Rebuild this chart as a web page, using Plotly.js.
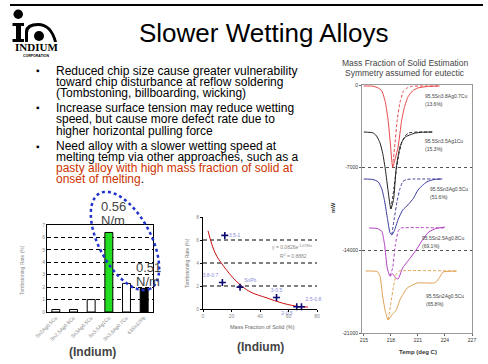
<!DOCTYPE html>
<html><head><meta charset="utf-8">
<script src="https://cdn.plot.ly/plotly-3.0.1.min.js"></script>
<style>html,body{margin:0;padding:0;background:#fff}#g{width:488px;height:364px}</style>
</head><body><div id="g"></div>
<script>
// ---------- data ----------
const barCats = ["Sn2Ag0.5Cu","Sn2.5Ag0.8Cu","Sn3Ag0.5Cu","Sn3.5Ag1Cu","Sn3.8Ag0.7Cu","63Sn37Pb"];
const barVals = [0.2, 0.2, 1.0, 6.4, 2.3, 1.9];
const barColors = ["#ffffff","#ffffff","#ffffff","#22dd22","#ffffff","#000000"];
const barTicks = [0,1,2,3,4,5,6,7];

const ptLabels = ["3.8-0.7","3.5-1","SnPb","3-0.5","2-0.5","2.5-0.8"];
const ptX = [13.6, 15.3, 26, 51.6, 65.8, 69.1];
const ptY = [2.3, 6.4, 1.9, 1.0, 0.2, 0.2];
const ptPos = ["top left","middle right","top right","top center","bottom left","top right"];
const fitX = [3.5, 8.4, 14, 23.9, 33, 44.9, 56, 68, 73.7];
const fitY = [6.8, 4.9, 3.8, 2.35, 1.5, 0.96, 0.5, 0.2, 0.17];
const scX = [0,20,40,60,80];
const scY = [0,2,4,6,8];
const scGrid = [2,4,6];

const dscXTicks = [215,218,221,224,227];
const dscYTicks = [0,-7000,-14000,-21000];
const dscYText = ["0","-7000","-14000","-21000"];

const redT  = [215.0,216.0,216.6,217.0,217.4,217.7,217.95,218.2,218.5,218.8,219.2,219.5,219.9,220.4,221.0,222.0,223.4];
const redV  = [-85,-100,-250,-500,-1500,-3000,-5000,-6950,-6200,-5250,-3000,-1900,-1000,-500,-250,-130,-85];
const redDT = [218.2,218.45,218.7,219.0,219.4,219.8,220.4,222.0,223.4];
const redDV = [-6950,-5000,-3000,-1500,-500,-250,-100,-85,-85];

const blkT  = [215.0,216.0,216.4,216.8,217.1,217.4,217.7,218.0,218.3,218.6,219.0,219.3,219.6,220.2,220.7,221.5,222.6];
const blkV  = [-3980,-4050,-4300,-4900,-5800,-7200,-9000,-10500,-9700,-7000,-5250,-4700,-4400,-4200,-4070,-4000,-3980];
const blkDT = [218.0,218.3,218.6,218.9,219.2,219.6,220.0,221.0,222.6];
const blkDV = [-10500,-9000,-7200,-5800,-4900,-4300,-4050,-3980,-3980];

const bluT  = [215.0,216.0,216.6,217.0,217.3,217.6,217.9,218.1,218.4,218.8,219.3,219.9,220.5,221.0,221.5,222.0,222.8,223.7];
const bluV  = [-7960,-8000,-8200,-8800,-9800,-11200,-12500,-12700,-12300,-11400,-10600,-10150,-9600,-8900,-8500,-8200,-8000,-7960];
const bluDT = [218.1,218.4,218.7,219.0,219.3,219.7,220.5,223.7];
const bluDV = [-12700,-11200,-9800,-8800,-8200,-8000,-7960,-7960];

const purT  = [215.6,216.5,217.0,217.3,217.6,217.9,218.2,218.5,218.8,219.3,220.0,220.8,221.5,222.2,223.0,224.0];
const purV  = [-12110,-12150,-12400,-13500,-15500,-16180,-16000,-16300,-16430,-15500,-14800,-13980,-13130,-12450,-12150,-12030];
const purDT = [217.9,218.2,218.5,218.8,219.1,224.0];
const purDV = [-16180,-15500,-13500,-12400,-12110,-12110];

const orgT  = [215.2,216.5,216.8,217.1,217.4,217.7,218.1,218.6,219.0,219.8,220.9,222.7,223.0,223.4,223.8,224.5,225.3];
const orgV  = [-15750,-15800,-16200,-17950,-19200,-19900,-19480,-19060,-18200,-17200,-16770,-16770,-16700,-16300,-15830,-15780,-15750];
const orgDT = [217.7,218.0,218.3,218.6,218.9,225.3];
const orgDV = [-19900,-18500,-17000,-16000,-15750,-15750];

const dscNames = ["95.5Sn3.8Ag0.7Cu","95.5Sn3.5Ag1Cu","95.5Sn3Ag0.5Cu","95.5Sn2.5Ag0.8Cu","95.5Sn2Ag0.5Cu"];
const dscPct = ["(13.6%)","(15.3%)","(51.6%)","(69.1%)","(65.8%)"];

const bulletLines = [
 ["Reduced chip size cause greater vulnerability","k"],
 ["toward chip disturbance at reflow soldering","k"],
 ["(Tombstoning, billboarding, wicking)","k"],
 ["Increase surface tension may reduce wetting","k"],
 ["speed, but cause more defect rate due to","k"],
 ["higher horizontal pulling force","k"],
 ["Need alloy with a slower wetting speed at","k"],
 ["melting temp via other approaches, such as a","k"],
 ["pasty alloy with high mass fraction of solid at","r"],
 ["onset of melting<span style='color:#000'>.</span>","r"]
];

// ---------- helpers ----------
const W=488,H=364;
const px=x=>x/W, py=y=>1-y/H;
const FF="Liberation Sans, Arial, sans-serif";
const ann=[];
function T(x,y,text,opt){ann.push(Object.assign({xref:'paper',yref:'paper',x:px(x),y:py(y),text:text,showarrow:false,
  font:{family:FF,size:12,color:'#000'},xanchor:'center',yanchor:'middle'},opt||{}));}

T(264,33,"Slower Wetting Alloys",{font:{family:FF,size:26,color:'#000'}});
const lineY=[71,82.3,93.3,107.7,119.3,130.7,146,157,168.3,179.3];
bulletLines.forEach((l,i)=>T(54,lineY[i],l[0],{xanchor:'left',font:{family:FF,size:12,color:l[1]==='r'?'#cc3300':'#000'}}));
[71,107.7,146].forEach(y=>T(38,y,"▪",{font:{family:FF,size:10,color:'#000'}}));
T(113,206,"0.56",{font:{family:FF,size:13}});
T(113,220,"N/m",{font:{family:FF,size:13}});
T(148,267,"0.51",{font:{family:FF,size:13}});
T(148,281,"N/m",{font:{family:FF,size:13}});
T(92,352,"<b>(Indium)</b>",{font:{family:FF,size:12}});
T(260,347,"<b>(Indium)</b>",{font:{family:FF,size:12}});
T(405,63,"Mass Fraction of Solid Estimation",{font:{family:FF,size:8.5}});
T(405,73,"Symmetry assumed for eutectic",{font:{family:FF,size:8.5}});
const lblPos=[[423,96],[423,141],[428,189],[420,238],[424,296]];
dscNames.forEach((n,i)=>{T(lblPos[i][0],lblPos[i][1],n,{xanchor:'left',font:{family:FF,size:5,color:'#444'}});
  T(lblPos[i][0],lblPos[i][1]+8,dscPct[i],{xanchor:'left',font:{family:FF,size:5,color:'#444'}});});
T(22,270,"Tombstoning Rate (%)",{textangle:-90,font:{family:FF,size:5,color:'#888'}});
T(187,263,"Tombstoning Rate (%)",{textangle:-90,font:{family:FF,size:5,color:'#777'}});
T(262,327,"Mass Fraction of Solid (%)",{font:{family:FF,size:5.5,color:'#666'}});
T(333,208,"<b>mW</b>",{textangle:-90,font:{family:FF,size:5.5,color:'#333'}});
T(418,352,"<b>Temp (deg C)</b>",{font:{family:FF,size:6,color:'#333'}});
T(292,247,"y = 0.0826e<sup>-5.0786x</sup>",{font:{family:FF,size:5,color:'#888'}});
T(293,256,"R<sup>2</sup> = 0.8882",{font:{family:FF,size:5,color:'#888'}});
T(36,47,"<b>INDIUM</b>",{font:{family:"Liberation Serif, serif",size:11,color:'#000'}});
T(36,55.5,"<b>CORPORATION</b>",{font:{family:FF,size:3.5,color:'#000'}});

const shapes=[];
shapes.push({type:'line',xref:'paper',yref:'paper',x0:px(10),x1:px(483),y0:py(5),y1:py(5),line:{color:'#000',width:2}});
shapes.push({type:'circle',xref:'paper',yref:'paper',x0:px(13.5),x1:px(23),y0:py(9.5),y1:py(19),fillcolor:'#000',line:{width:0}});
shapes.push({type:'rect',xref:'paper',yref:'paper',x0:px(16),x1:px(21),y0:py(24),y1:py(41),fillcolor:'#000',line:{width:0}});
shapes.push({type:'rect',xref:'paper',yref:'paper',x0:px(12.5),x1:px(24),y0:py(23),y1:py(26),fillcolor:'#000',line:{width:0}});
shapes.push({type:'rect',xref:'paper',yref:'paper',x0:px(12.5),x1:px(24),y0:py(39),y1:py(42),fillcolor:'#000',line:{width:0}});
const arch=`M ${px(25)} ${py(42)} L ${px(25)} ${py(31)} Q ${px(26)} ${py(23)} ${px(38)} ${py(23)} Q ${px(52)} ${py(23)} ${px(57)} ${py(42)} L ${px(54)} ${py(42)} Q ${px(50)} ${py(26)} ${px(38)} ${py(26)} Q ${px(28)} ${py(26)} ${px(28)} ${py(33)} L ${px(28)} ${py(42)} Z`;
shapes.push({type:'path',xref:'paper',yref:'paper',path:arch,fillcolor:'#000',line:{width:0}});
shapes.push({type:'circle',xref:'paper',yref:'paper',x0:px(34),x1:px(44),y0:py(31),y1:py(41),fillcolor:'#000',line:{width:0}});
(function(){const cx=125,cy=241,a=54,b=26,ang=62*Math.PI/180;let d='';
 for(let i=0;i<=72;i++){const t=i/72*2*Math.PI;const ex=a*Math.cos(t),ey=b*Math.sin(t);
  const x=cx+ex*Math.cos(ang)-ey*Math.sin(ang), y=cy+ex*Math.sin(ang)+ey*Math.cos(ang);
  d+=(i?' L ':'M ')+px(x)+' '+py(y);}
 shapes.push({type:'path',xref:'paper',yref:'paper',path:d,line:{color:'#2233cc',width:2.5,dash:'dot'}});})();
scGrid.forEach(g=>shapes.push({type:'line',xref:'x2 domain',yref:'y2',x0:0,x1:1,y0:g,y1:g,line:{color:'#000',width:1,dash:'4px,3px'},layer:'below'}));

const traces=[
 {type:'bar',x:barCats,y:barVals,xaxis:'x',yaxis:'y',width:0.45,marker:{color:barColors,line:{color:'#000',width:1}}},
 {type:'scatter',mode:'lines',x:fitX,y:fitY,xaxis:'x2',yaxis:'y2',line:{color:'#cc1111',width:1,shape:'spline'}},
 {type:'scatter',mode:'markers+text',x:ptX,y:ptY,text:ptLabels,textposition:ptPos,xaxis:'x2',yaxis:'y2',cliponaxis:false,
  marker:{symbol:'cross-thin',size:5,color:'#0a0a70',line:{color:'#0a0a70',width:1.6}},textfont:{family:FF,size:5,color:'#8a8ad8'}},
];
const dsc=[[redT,redV,redDT,redDV,'#e8474a'],[blkT,blkV,blkDT,blkDV,'#222222'],[bluT,bluV,bluDT,bluDV,'#3a3a9a'],
 [purT,purV,purDT,purDV,'#b040c0'],[orgT,orgV,orgDT,orgDV,'#e0a050']];
dsc.forEach(c=>{
 traces.push({type:'scatter',mode:'lines',x:c[0],y:c[1],xaxis:'x3',yaxis:'y3',line:{color:c[4],width:1,shape:'spline',smoothing:0.5}});
 traces.push({type:'scatter',mode:'lines',x:c[2],y:c[3],xaxis:'x3',yaxis:'y3',line:{color:c[4],width:1,dash:'3px,2px',shape:'spline',smoothing:0.3}});
});

const tf=(s,c)=>({family:FF,size:s,color:c});
const layout={
 width:W,height:H,margin:{l:0,r:0,t:0,b:0},paper_bgcolor:'#fff',plot_bgcolor:'rgba(0,0,0,0)',showlegend:false,
 xaxis:{domain:[px(47),px(153)],anchor:'y',type:'category',tickangle:-45,tickfont:tf(5,'#888'),showline:true,mirror:true,linecolor:'#000',linewidth:1,ticks:'',showgrid:false},
 yaxis:{domain:[py(312),py(225)],anchor:'x',range:[0,7],tickvals:barTicks,ticksuffix:'%',tickfont:tf(5,'#888'),showline:true,mirror:true,linecolor:'#000',linewidth:1,
   showgrid:true,gridcolor:'#000',griddash:'4px,3px',gridwidth:1,zeroline:false,ticks:''},
 xaxis2:{domain:[px(203),px(317)],anchor:'y2',range:[0,80],tickvals:scX,ticksuffix:'%',tickfont:tf(5,'#888'),showline:true,linecolor:'#000',linewidth:1,showgrid:false,zeroline:false,ticks:'outside',ticklen:2,tickcolor:'#000'},
 yaxis2:{domain:[py(309),py(217)],anchor:'x2',range:[0,8],tickvals:scY,ticksuffix:'%',tickfont:tf(5,'#888'),showline:true,linecolor:'#000',linewidth:1,showgrid:false,zeroline:false,ticks:'outside',ticklen:2,tickcolor:'#000'},
 xaxis3:{domain:[px(362),px(472)],anchor:'y3',range:[214.8,227],tickvals:dscXTicks,tickfont:tf(5,'#333'),showline:true,mirror:true,linecolor:'#999',linewidth:1,showgrid:false,zeroline:false,ticks:'outside',ticklen:2,tickcolor:'#666'},
 yaxis3:{domain:[py(333),py(85)],anchor:'x3',range:[-21000,0],tickvals:dscYTicks,ticktext:dscYText,tickfont:tf(5,'#333'),showline:true,mirror:true,linecolor:'#999',linewidth:1,
   showgrid:true,gridcolor:'#555',griddash:'dot',gridwidth:1,zeroline:false,ticks:'outside',ticklen:2,tickcolor:'#666'},
 annotations:ann,shapes:shapes
};
Plotly.newPlot('g',traces,layout,{staticPlot:true,displayModeBar:false});
</script></body></html>
